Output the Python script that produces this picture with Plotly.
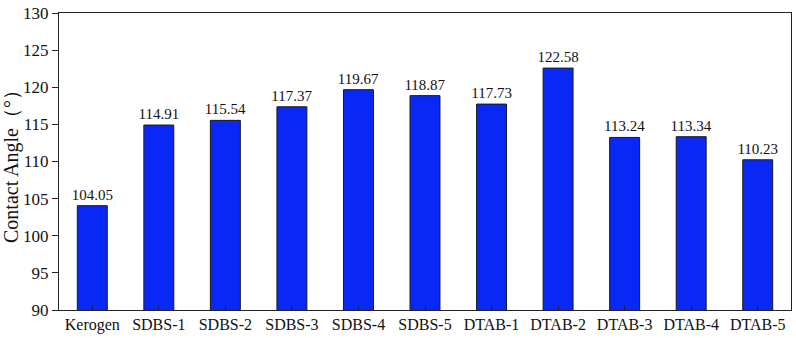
import plotly.graph_objects as go

categories = ["Kerogen", "SDBS-1", "SDBS-2", "SDBS-3", "SDBS-4", "SDBS-5",
              "DTAB-1", "DTAB-2", "DTAB-3", "DTAB-4", "DTAB-5"]
values = [104.05, 114.91, 115.54, 117.37, 119.67, 118.87,
          117.73, 122.58, 113.24, 113.34, 110.23]
labels = [f"{v:.2f}" for v in values]

fig = go.Figure(go.Bar(
    x=categories, y=values,
    marker=dict(color="#0A28F5", line=dict(color="#1a1a1a", width=1)),
    width=0.45,
    text=labels, textposition="outside", cliponaxis=False,
    constraintext="none",
    textfont=dict(family="Liberation Serif", size=15, color="#111"),
))

fig.update_layout(
    width=796, height=338,
    margin=dict(l=59, r=4, t=11, b=28),
    paper_bgcolor="white", plot_bgcolor="white",
    font=dict(family="Liberation Serif", color="#111"),
    showlegend=False,
)
fig.update_xaxes(
    showline=True, linecolor="#222", linewidth=1.2, mirror=True,
    ticks="inside", ticklen=5, tickcolor="#222",
    tickfont=dict(size=16), showgrid=False,
)
fig.update_yaxes(
    range=[90, 130], dtick=5, tick0=90,
    showline=True, linecolor="#222", linewidth=1.2, mirror=True,
    ticks="outside", ticklen=6, tickcolor="#222",
    tickfont=dict(size=17), showgrid=False, zeroline=False,
    title=dict(text="Contact Angle（°）", font=dict(size=20), standoff=5),
)

fig.write_html("out.html", config={"displayModeBar": False},
               post_script="document.body.style.margin='0';document.body.style.overflow='hidden';")
